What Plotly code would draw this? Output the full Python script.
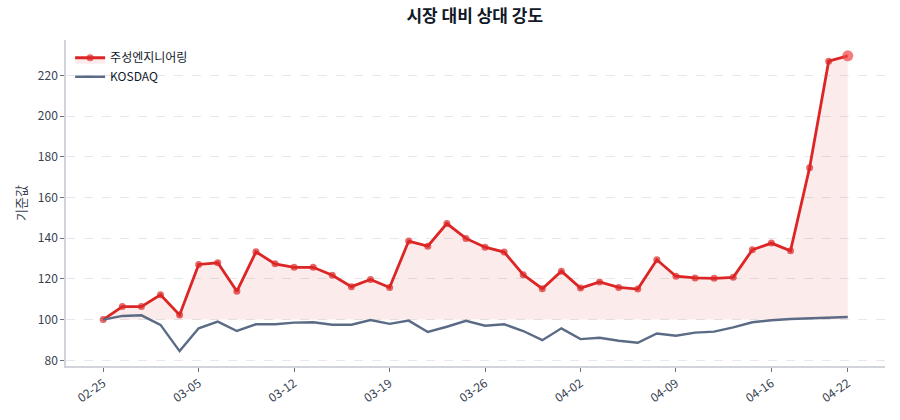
import plotly.graph_objects as go

dates = ["02-25", "02-26", "02-27", "02-28", "03-04", "03-05", "03-06", "03-07",
         "03-10", "03-11", "03-12", "03-13", "03-14", "03-17", "03-18", "03-19",
         "03-20", "03-21", "03-24", "03-25", "03-26", "03-27", "03-28", "03-31",
         "04-01", "04-02", "04-03", "04-04", "04-07", "04-08", "04-09", "04-10",
         "04-11", "04-14", "04-15", "04-16", "04-17", "04-18", "04-21", "04-22"]

stock = [100.0, 106.4, 106.4, 112.2, 102.3, 127.1, 127.9, 113.9,
         133.3, 127.4, 125.7, 125.7, 121.8, 116.2, 119.7, 115.8,
         138.6, 136.1, 147.2, 139.9, 135.6, 133.2, 122.1, 115.2,
         123.8, 115.5, 118.5, 115.8, 115.0, 129.4, 121.3, 120.5,
         120.3, 120.8, 134.3, 137.6, 133.8, 174.6, 227.0, 229.6]

kosdaq = [100.0, 101.8, 102.1, 97.4, 84.5, 95.7, 99.0, 94.4,
          97.7, 97.7, 98.5, 98.7, 97.5, 97.5, 99.8, 97.9,
          99.5, 93.9, 96.5, 99.4, 97.0, 97.7, 94.4, 89.9,
          95.7, 90.4, 91.1, 89.6, 88.6, 93.2, 92.1, 93.6,
          94.1, 96.2, 98.7, 99.7, 100.3, 100.6, 101.0, 101.3]

baseline = 100
tick_labels = ["02-25", "03-05", "03-12", "03-19", "03-26", "04-02", "04-09", "04-16", "04-22"]
yticks = [80, 100, 120, 140, 160, 180, 200, 220]

stock_name = "주성엔지니어링"
index_name = "KOSDAQ"
title = "시장 대비 상대 강도"
ytitle = "기준값"

RED = "#dc2626"
SLATE = "#5b6b85"
FONT = "Noto Sans CJK KR"

n = len(dates)
sizes = [7] * (n - 1) + [11]
colors = [RED] * (n - 1) + ["#ef4444"]

fig = go.Figure()
fig.add_trace(go.Scatter(
    x=dates, y=[baseline] * n, mode="lines", line=dict(width=0, color="rgba(0,0,0,0)"),
    showlegend=False, hoverinfo="skip"))
fig.add_trace(go.Scatter(
    x=dates, y=stock, mode="lines+markers", name=stock_name,
    line=dict(color=RED, width=2.8),
    marker=dict(size=sizes, color=colors, line=dict(width=0)),
    fill="tonexty", fillcolor="rgba(220,38,38,0.09)"))
fig.add_trace(go.Scatter(
    x=dates, y=kosdaq, mode="lines", name=index_name,
    line=dict(color=SLATE, width=2.4)))

fig.update_layout(
    width=900, height=420,
    margin=dict(l=66, r=15, t=40, b=54),
    paper_bgcolor="white", plot_bgcolor="white",
    font=dict(family=FONT, size=12, color="#374151"),
    title=dict(text=f"<b>{title}</b>", x=0.5275, xanchor="center", y=0.975, yanchor="top",
               font=dict(family=FONT, size=17, color="#111827")),
    legend=dict(x=0.005, y=0.99, xanchor="left", yanchor="top", traceorder="normal",
                bgcolor="rgba(255,255,255,0)", font=dict(family=FONT, size=12, color="#111827"),
                itemwidth=30, tracegroupgap=2),
    showlegend=True,
)
fig.update_xaxes(
    type="category", range=[-1.95, n - 1 + 1.95],
    tickmode="array", tickvals=tick_labels, ticktext=tick_labels,
    tickangle=-35, ticks="outside", ticklen=4, tickcolor="#6b7280",
    showline=True, linecolor="#d1d5db", linewidth=1.5,
    showgrid=False, zeroline=False,
    tickfont=dict(size=12, color="#374151"),
)
fig.update_yaxes(
    range=[77.2, 237.4], tickmode="array", tickvals=yticks,
    ticks="outside", ticklen=4, tickcolor="#6b7280",
    showline=True, linecolor="#d1d5db", linewidth=1.5,
    showgrid=True, gridcolor="#e5e7eb", griddash="dash", gridwidth=1,
    zeroline=False,
    title=dict(text=ytitle, font=dict(size=13, color="#374151"), standoff=8),
    tickfont=dict(size=12, color="#374151"),
)

fig.write_html("out.html")
